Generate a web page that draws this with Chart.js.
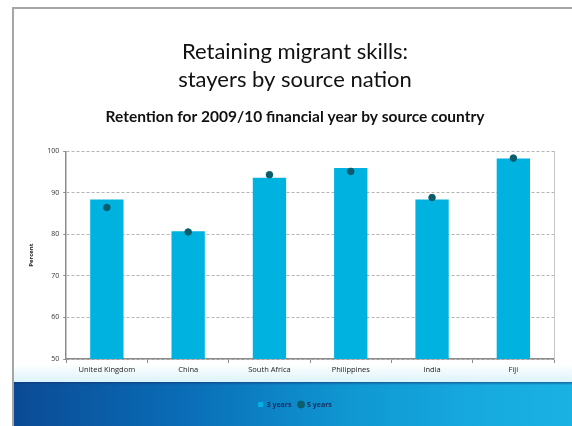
<!DOCTYPE html>
<html>
<head>
<meta charset="utf-8">
<script src="https://cdn.jsdelivr.net/npm/chart.js@4"></script>
<style>
  html, body { margin: 0; padding: 0; background: #fff; }
  #slide { position: relative; width: 572px; height: 426px; overflow: hidden; }
  #frame { position: absolute; left: 12px; top: 7px; width: 570px; height: 430px;
           border-left: 2px solid #a6a6a6; border-top: 2px solid #a6a6a6; box-sizing: border-box; }
  #glow { position: absolute; left: 14px; top: 364px; width: 558px; height: 18px;
          background: linear-gradient(to bottom, rgba(255,255,255,0), rgba(205,238,249,0.7)); }
  #band { position: absolute; left: 14px; top: 382px; width: 558px; height: 44px;
          background: linear-gradient(to right, #0b4a95 0%, #0a6cb6 30%, #0f97d2 60%, #17abe0 85%, #1ab1e3 100%); }
  #band:before { content: ""; position: absolute; left: 0; top: 0; right: 0; height: 3px;
          background: linear-gradient(to bottom, rgba(20,50,110,0.6), rgba(20,50,110,0)); }
  canvas { position: absolute; left: 0; top: 0; }
</style>
</head>
<body>
<div id="slide">
  <div id="frame"></div>
  <div id="glow"></div>
  <div id="band"></div>
  <canvas id="mainCanvas" width="572" height="426"></canvas>
</div>
<script>
// chart values
const countries = ["United Kingdom", "China", "South Africa", "Philippines", "India", "Fiji"];
const threeYears = [88.4, 80.8, 93.7, 96.0, 88.4, 98.3];
const fiveYears = [86.5, 80.6, 94.4, 95.2, 88.9, 98.4];
const titleLines = ["Retaining migrant skills:", "stayers by source nation"];
const subtitleText = "Retention for 2009/10 financial year by source country";

const barColour = "#00b2e0";
const dotColour = "#0b5d6c";

(function main() {
  const ctx = document.getElementById("mainCanvas").getContext("2d");

  new Chart(ctx, {
    data: {
      labels: countries,
      datasets: [
        {
          type: "line",
          label: "5 years",
          data: fiveYears,
          showLine: false,
          pointRadius: 3.3,
          pointBackgroundColor: dotColour,
          pointBorderColor: dotColour,
          borderColor: dotColour,
          backgroundColor: dotColour,
          pointStyle: "circle",
          order: 0,
        },
        {
          type: "bar",
          label: "3 years",
          data: threeYears,
          backgroundColor: barColour,
          borderColor: barColour,
          borderWidth: 0,
          categoryPercentage: 1,
          barPercentage: 0.41,
          pointStyle: "rect",
          order: 1,
        },
      ],
    },
    options: {
      responsive: false,
      animation: false,
      layout: { padding: { left: 28, right: 10, top: 34, bottom: 8 } },
      plugins: {
        tooltip: { enabled: false },
        title: {
          display: true,
          text: titleLines,
          color: "#111",
          font: { family: "Lato", size: 22, weight: "normal", lineHeight: 1.27 },
          padding: { top: 4, bottom: 14 },
        },
        subtitle: {
          display: true,
          text: subtitleText,
          color: "#111",
          font: { family: "Lato", size: 15.5, weight: "bold" },
          padding: { top: 0, bottom: 25 },
        },
        legend: {
          position: "bottom",
          reverse: true,
          labels: {
            usePointStyle: true,
            boxWidth: 5,
            boxHeight: 5,
            padding: 7,
            color: "#1b2d5c",
            font: { family: "Open Sans", size: 7, weight: "bold" },
          },
        },
      },
      scales: {
        x: {
          offset: true,
          afterFit(scale) { scale.height += 18; },
          grid: {
            offset: true,
            drawOnChartArea: false,
            tickLength: 4,
            color: "#8c8c8c",
          },
          border: { color: "#8c8c8c", width: 1.5 },
          ticks: { color: "#222", font: { family: "Open Sans", size: 7.5 }, padding: 2 },
        },
        y: {
          min: 50,
          max: 100,
          title: {
            display: true,
            text: "Percent",
            color: "#222",
            font: { family: "Open Sans", size: 6, weight: "bold" },
            padding: { top: 0, bottom: 8 },
          },
          ticks: { stepSize: 10, color: "#333", font: { family: "Open Sans", size: 7 }, padding: 4 },
          grid: { color: "#b4b4b4", tickLength: 3, tickColor: "#8c8c8c" },
          border: { color: "#8c8c8c", width: 1.5, dash: [3, 2] },
        },
        yRight: {
          position: "right",
          min: 50,
          max: 100,
          ticks: { display: false },
          grid: { display: false },
          border: { color: "#c8c8c8", width: 1 },
        },
      },
    },
  });
})();
</script>
</body>
</html>
